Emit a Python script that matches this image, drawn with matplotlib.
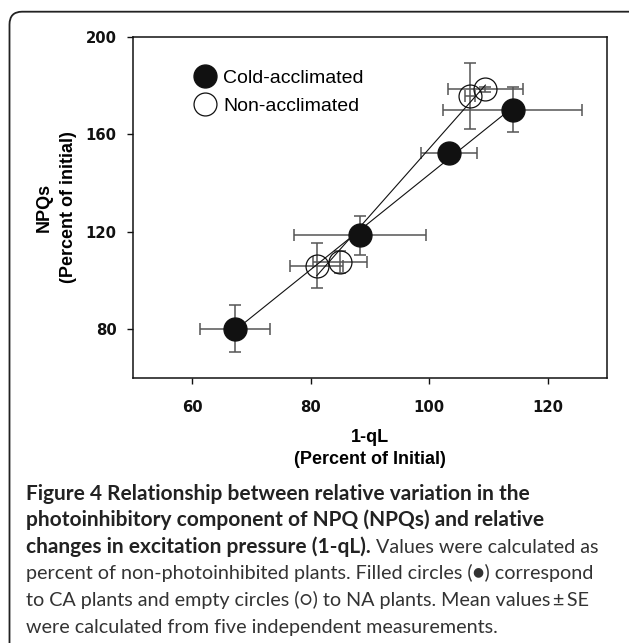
import matplotlib
matplotlib.use("Agg")
import matplotlib.pyplot as plt
from matplotlib.patches import FancyBboxPatch
from matplotlib.lines import Line2D
import numpy as np

# ---- data ----
ca_x = [67.2, 88.3, 103.3, 114.1]
ca_y = [80.2, 118.6, 152.4, 170.2]
ca_xerr = [5.9, 11.1, 4.7, 11.7]
ca_yerr = [9.7, 8.0, 2.5, 9.4]

na_x = [81.0, 84.9, 106.9, 109.5]
na_y = [106.1, 107.6, 175.7, 178.6]
na_xerr = [4.5, 4.6, 0.8, 6.3]
na_yerr = [9.3, 4.6, 13.5, 1.0]

x_ticks = [60, 80, 100, 120]
y_ticks = [80, 120, 160, 200]
legend_labels = ["Cold-acclimated", "Non-acclimated"]

W, H = 629, 643
fig = plt.figure(figsize=(W / 100, H / 100), dpi=100)

# outer rounded frame
frame = FancyBboxPatch((9.5 / W, -0.05), (646 - 9.5) / W, (H - 11.7) / H + 0.05,
                       boxstyle="round,pad=0,rounding_size=0.02",
                       transform=fig.transFigure, fill=False,
                       edgecolor="#222222", linewidth=1.3)
fig.add_artist(frame)

ax = fig.add_axes([133.3 / W, 1 - 378 / H, (606.7 - 133.3) / W, (378 - 37) / H])
ax.set_xlim(50, 130)
ax.set_ylim(60, 200)

ebcol = "#555555"
ms = 16.5

def fit_line(x, y):
    x = np.asarray(x); y = np.asarray(y)
    m, b = np.polyfit(x, y, 1)
    xs = np.array([x.min(), x.max()])
    return xs, m * xs + b

xs, ys = fit_line(ca_x, ca_y)
ax.plot(xs, ys, color="#111111", lw=0.8, zorder=2)
xs, ys = fit_line(na_x, na_y)
ax.plot(xs, ys, color="#111111", lw=0.8, zorder=2)

ax.errorbar(ca_x, ca_y, xerr=ca_xerr, yerr=ca_yerr, fmt="none",
            ecolor=ebcol, elinewidth=1.1, capsize=4, capthick=1.1, zorder=1)
ax.errorbar(na_x, na_y, xerr=na_xerr, yerr=na_yerr, fmt="none",
            ecolor=ebcol, elinewidth=1.1, capsize=4, capthick=1.1, zorder=1)

ax.plot(ca_x, ca_y, "o", ms=ms, mfc="#111111", mec="#111111", ls="none", zorder=3)
ax.plot(na_x, na_y, "o", ms=ms, mfc="none", mec="#111111", mew=0.9, ls="none", zorder=3)

for s in ax.spines.values():
    s.set_linewidth(1.1)
    s.set_color("#111111")

ax.set_xticks(x_ticks)
ax.set_yticks(y_ticks)
ax.tick_params(direction="out", length=4, width=1, top=False, right=False,
               labelsize=10.7, colors="#111111")
ax.tick_params(axis="x", pad=12)
ax.tick_params(axis="y", pad=8)
for lab in ax.get_xticklabels() + ax.get_yticklabels():
    lab.set_fontweight("bold")
    lab.set_family("DejaVu Sans")

ax.set_xlabel("1-qL\n(Percent of Initial)", fontsize=13, fontweight="bold",
              family="Liberation Sans", linespacing=1.35, labelpad=10)
ax.set_ylabel("NPQs\n(Percent of initial)", fontsize=13, fontweight="bold",
              family="Liberation Sans", linespacing=1.55, labelpad=6)

handles = [Line2D([], [], marker="o", ls="none", ms=ms, mfc="#111111", mec="#111111"),
           Line2D([], [], marker="o", ls="none", ms=ms, mfc="none", mec="#111111", mew=0.9)]
leg = ax.legend(handles, legend_labels, loc="upper left",
                bbox_to_anchor=((193 - 133.3) / (606.7 - 133.3), 1 - (69 - 37) / (378 - 37)),
                frameon=False, prop={"family": "Liberation Sans", "size": 14},
                handlelength=1.2, handletextpad=0.35, labelspacing=0.55,
                borderaxespad=0, borderpad=0)

# ---- caption ----
cap_font = ["Lato", "DejaVu Sans"]
bold_size = 15.0
reg_size = 14.2
x0 = 26 / W
line_ys = [500, 526.5, 553, 579.5, 606, 632.5]
fig.text(x0, 1 - line_ys[0] / H, "Figure 4 Relationship between relative variation in the",
         fontsize=bold_size, fontweight="bold", family=cap_font, va="baseline", color="#222222")
fig.text(x0, 1 - line_ys[1] / H, "photoinhibitory component of NPQ (NPQs) and relative",
         fontsize=bold_size, fontweight="bold", family=cap_font, va="baseline", color="#222222")
t_b = fig.text(x0, 1 - line_ys[2] / H, "changes in excitation pressure (1-qL).",
               fontsize=bold_size, fontweight="bold", family=cap_font, va="baseline", color="#222222")
fig.canvas.draw()
bb = t_b.get_window_extent()
fig.text(bb.x1 / W, 1 - line_ys[2] / H, " Values were calculated as",
         fontsize=reg_size, family=cap_font, va="baseline", color="#333333")
for yy, s in zip(line_ys[3:], [
        "percent of non-photoinhibited plants. Filled circles (\u25cf) correspond",
        "to CA plants and empty circles (\u25cb) to NA plants. Mean values\u2009\u00b1\u2009SE",
        "were calculated from five independent measurements."]):
    fig.text(x0, 1 - yy / H, s, fontsize=reg_size, family=cap_font, va="baseline",
             color="#333333")

fig.savefig("out.png", dpi=100)
